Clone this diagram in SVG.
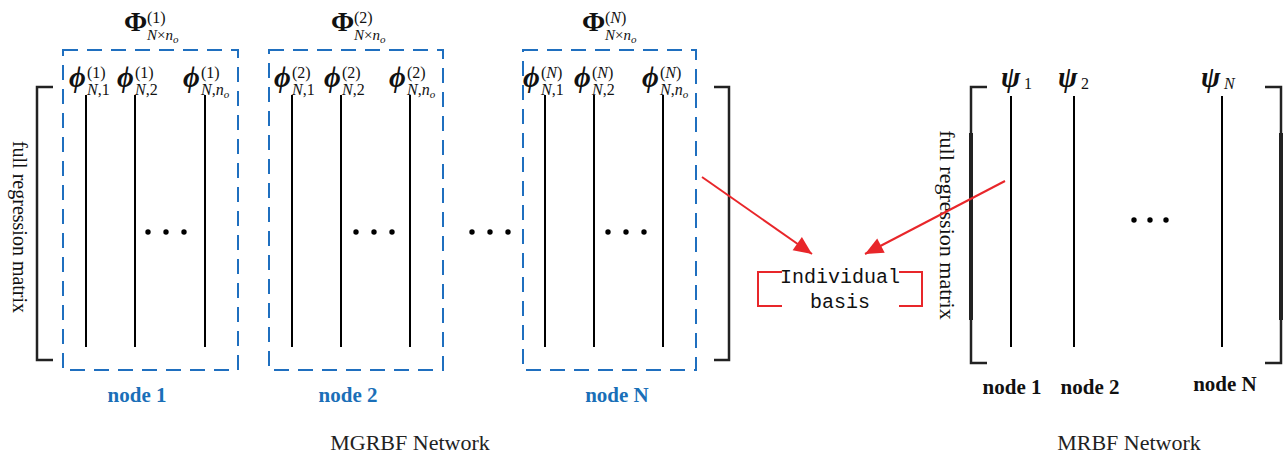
<svg xmlns="http://www.w3.org/2000/svg" width="1286" height="460" viewBox="0 0 1286 460">
<defs>
<style>
.box{fill:none;stroke:#1f6fbf;stroke-width:2;stroke-dasharray:15 9}
.col{stroke:#000;stroke-width:2}
.br{fill:none;stroke:#222;stroke-width:2.5}
.thick{stroke:#222;stroke-width:4}
.serif{font-family:"Liberation Serif","DejaVu Serif",serif;fill:#111}
.big{font-size:28px;font-weight:bold;font-style:normal}
.sup{font-size:16px;font-weight:normal;font-style:normal}
.sub{font-size:16px;font-weight:normal;font-style:normal}
.sub15{font-size:15px;font-weight:normal;font-style:normal}
.sub2{font-size:11px;font-style:italic;font-weight:normal}
.it{font-style:italic}
.phi{font-size:29px;font-weight:bold;font-style:italic}
.nodeb{font-family:"Liberation Serif",serif;font-weight:bold;font-size:21px;fill:#1a6fb8;text-anchor:middle}
.nodek{font-family:"Liberation Serif",serif;font-weight:bold;font-size:21px;fill:#111;text-anchor:middle}
.cap{font-family:"Liberation Serif",serif;font-size:22px;fill:#222;text-anchor:middle}
.dot{fill:#000}
.red{stroke:#e8262a;stroke-width:2;fill:none}
.mono{font-family:"Liberation Mono",monospace;font-size:20px;fill:#111;text-anchor:middle}
</style>
<marker id="ah" viewBox="0 0 20 20" refX="20" refY="10" markerWidth="20" markerHeight="18" markerUnits="userSpaceOnUse" orient="auto">
<path d="M0,1 L20,10 L0,19 z" fill="#e8262a"/>
</marker>
</defs>
<rect width="1286" height="460" fill="#fff"/>

<g id="mgrbf-matrix">
<path class="br" d="M53,87 H37 V360 H53"/>
<path class="br" d="M714,87 H729 V360 H714"/>
<text class="serif" font-size="20" fill="#222" text-anchor="middle" transform="translate(13,227) rotate(90)">full regression matrix</text>
</g>

<g id="node1">
<rect class="box" x="63" y="50" width="175" height="320"/>
<line class="col" x1="86" y1="95" x2="86" y2="347"/>
<line class="col" x1="135" y1="95" x2="135" y2="347"/>
<line class="col" x1="205" y1="95" x2="205" y2="347"/>
<circle class="dot" cx="148" cy="232" r="2.7"/><circle class="dot" cx="166" cy="232" r="2.7"/><circle class="dot" cx="184" cy="232" r="2.7"/>
<text class="serif" x="124" y="31"><tspan class="big">Φ</tspan><tspan class="sup" x="147" y="23">(1)</tspan><tspan class="sub15" x="147" y="40"><tspan class="it">N</tspan>×<tspan class="it">n</tspan></tspan><tspan class="sub2" dy="3">o</tspan></text>
<text class="serif" x="69" y="87"><tspan class="phi">ϕ</tspan><tspan class="sup" x="87" y="78">(1)</tspan><tspan class="sub" x="87" y="95"><tspan class="it">N</tspan>,1</tspan></text>
<text class="serif" x="117" y="87"><tspan class="phi">ϕ</tspan><tspan class="sup" x="135" y="78">(1)</tspan><tspan class="sub" x="135" y="95"><tspan class="it">N</tspan>,2</tspan></text>
<text class="serif" x="183" y="87"><tspan class="phi">ϕ</tspan><tspan class="sup" x="201" y="78">(1)</tspan><tspan class="sub" x="201" y="95"><tspan class="it">N</tspan>,<tspan class="it">n</tspan></tspan><tspan class="sub2" dy="3">o</tspan></text>
<text class="nodeb" x="137" y="402">node 1</text>
</g>

<g id="node2">
<rect class="box" x="269" y="50" width="174" height="320"/>
<line class="col" x1="292" y1="95" x2="292" y2="347"/>
<line class="col" x1="341" y1="95" x2="341" y2="347"/>
<line class="col" x1="410" y1="95" x2="410" y2="347"/>
<circle class="dot" cx="356" cy="232" r="2.7"/><circle class="dot" cx="374" cy="232" r="2.7"/><circle class="dot" cx="392" cy="232" r="2.7"/>
<text class="serif" x="331" y="31"><tspan class="big">Φ</tspan><tspan class="sup" x="354" y="23">(2)</tspan><tspan class="sub15" x="354" y="40"><tspan class="it">N</tspan>×<tspan class="it">n</tspan></tspan><tspan class="sub2" dy="3">o</tspan></text>
<text class="serif" x="274" y="87"><tspan class="phi">ϕ</tspan><tspan class="sup" x="292" y="78">(2)</tspan><tspan class="sub" x="292" y="95"><tspan class="it">N</tspan>,1</tspan></text>
<text class="serif" x="324" y="87"><tspan class="phi">ϕ</tspan><tspan class="sup" x="342" y="78">(2)</tspan><tspan class="sub" x="342" y="95"><tspan class="it">N</tspan>,2</tspan></text>
<text class="serif" x="389" y="87"><tspan class="phi">ϕ</tspan><tspan class="sup" x="407" y="78">(2)</tspan><tspan class="sub" x="407" y="95"><tspan class="it">N</tspan>,<tspan class="it">n</tspan></tspan><tspan class="sub2" dy="3">o</tspan></text>
<text class="nodeb" x="348" y="402">node 2</text>
</g>

<g id="between-dots">
<circle class="dot" cx="472" cy="232" r="2.7"/><circle class="dot" cx="490" cy="232" r="2.7"/><circle class="dot" cx="508" cy="232" r="2.7"/>
</g>

<g id="nodeN">
<rect class="box" x="523" y="50" width="173" height="320"/>
<line class="col" x1="545" y1="95" x2="545" y2="347"/>
<line class="col" x1="594" y1="95" x2="594" y2="347"/>
<line class="col" x1="663" y1="95" x2="663" y2="347"/>
<circle class="dot" cx="608" cy="232" r="2.7"/><circle class="dot" cx="626" cy="232" r="2.7"/><circle class="dot" cx="644" cy="232" r="2.7"/>
<text class="serif" x="582" y="31"><tspan class="big">Φ</tspan><tspan class="sup" x="605" y="23">(<tspan class="it">N</tspan>)</tspan><tspan class="sub15" x="605" y="40"><tspan class="it">N</tspan>×<tspan class="it">n</tspan></tspan><tspan class="sub2" dy="3">o</tspan></text>
<text class="serif" x="523" y="87"><tspan class="phi">ϕ</tspan><tspan class="sup" x="541" y="78">(<tspan class="it">N</tspan>)</tspan><tspan class="sub" x="541" y="95"><tspan class="it">N</tspan>,1</tspan></text>
<text class="serif" x="574" y="87"><tspan class="phi">ϕ</tspan><tspan class="sup" x="592" y="78">(<tspan class="it">N</tspan>)</tspan><tspan class="sub" x="592" y="95"><tspan class="it">N</tspan>,2</tspan></text>
<text class="serif" x="642" y="87"><tspan class="phi">ϕ</tspan><tspan class="sup" x="660" y="78">(<tspan class="it">N</tspan>)</tspan><tspan class="sub" x="660" y="95"><tspan class="it">N</tspan>,<tspan class="it">n</tspan></tspan><tspan class="sub2" dy="3">o</tspan></text>
<text class="nodeb" x="617" y="402">node N</text>
</g>

<text class="cap" x="410" y="450">MGRBF Network</text>

<g id="individual-basis">
<path class="red" d="M782,272 H758 V306 H782"/>
<path class="red" d="M899,272 H922 V306 H899"/>
<text class="mono" x="840" y="283">Individual</text>
<text class="mono" x="840" y="308">basis</text>
</g>

<g id="mrbf">
<path class="br" d="M987,87 H971 V363 H987"/>
<line class="thick" x1="971" y1="133" x2="971" y2="320"/>
<path class="br" d="M1265,87 H1281 V363 H1265"/>
<line class="thick" x1="1281" y1="133" x2="1281" y2="320"/>
<text class="serif" font-size="22" fill="#222" text-anchor="middle" transform="translate(940,225) rotate(90)">full regression matrix</text>
<line class="col" x1="1011" y1="96" x2="1011" y2="347"/>
<line class="col" x1="1074" y1="96" x2="1074" y2="347"/>
<line class="col" x1="1222" y1="96" x2="1222" y2="347"/>
<circle class="dot" cx="1134" cy="220" r="2.7"/><circle class="dot" cx="1150" cy="220" r="2.7"/><circle class="dot" cx="1166" cy="220" r="2.7"/>
<text class="serif" x="1001" y="87"><tspan class="phi">ψ</tspan><tspan class="sub" x="1024" y="89">1</tspan></text>
<text class="serif" x="1058" y="87"><tspan class="phi">ψ</tspan><tspan class="sub" x="1081" y="89">2</tspan></text>
<text class="serif" x="1201" y="87"><tspan class="phi">ψ</tspan><tspan class="sub it" x="1224" y="89">N</tspan></text>
<text class="nodek" x="1012" y="394">node 1</text>
<text class="nodek" x="1090" y="394">node 2</text>
<text class="nodek" x="1225" y="391">node N</text>
<text class="cap" x="1129" y="450">MRBF Network</text>
</g>

<g id="connectors">
<line class="red" x1="702" y1="177" x2="812" y2="254" marker-end="url(#ah)"/>
<line class="red" x1="1005" y1="181" x2="865" y2="254" marker-end="url(#ah)"/>
</g>
</svg>
